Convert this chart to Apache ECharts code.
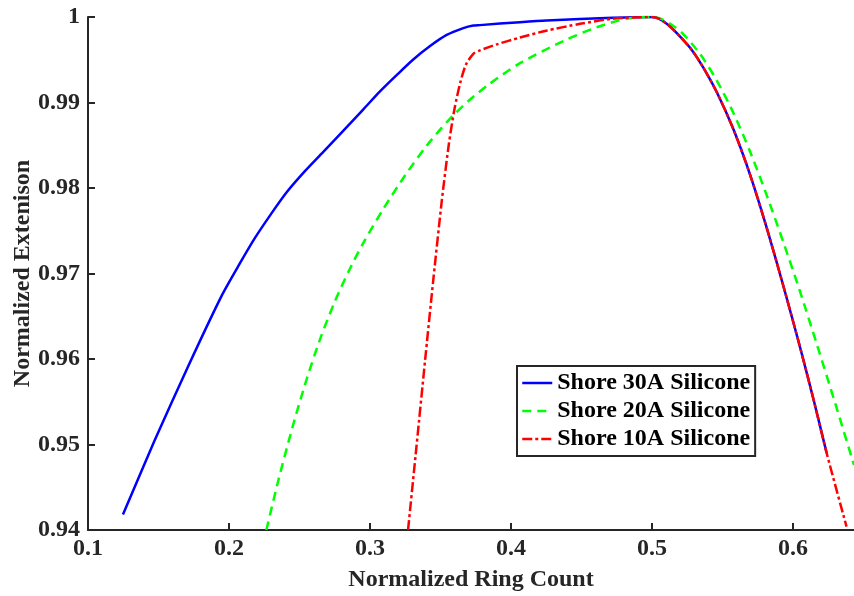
<!DOCTYPE html>
<html>
<head>
<meta charset="utf-8">
<script src="https://cdn.jsdelivr.net/npm/echarts@6/dist/echarts.min.js"></script>
<style>
html,body{margin:0;padding:0;background:#fff;}
#chart{width:854px;height:596px;}
</style>
</head>
<body>
<div id="chart"></div>
<script>
// ---- Data ----
const xTicks = [0.1, 0.2, 0.3, 0.4, 0.5, 0.6];
const xTickLabels = ['0.1', '0.2', '0.3', '0.4', '0.5', '0.6'];
const yTicks = [0.94, 0.95, 0.96, 0.97, 0.98, 0.99, 1.0];
const yTickLabels = ['0.94', '0.95', '0.96', '0.97', '0.98', '0.99', '1'];

const seriesNames = ['Shore 30A Silicone', 'Shore 20A Silicone', 'Shore 10A Silicone'];

const x30 = [0.1248, 0.1473, 0.1709, 0.1945, 0.2078, 0.2182, 0.2300, 0.2409, 0.2540, 0.2679, 0.2800, 0.2953, 0.3071, 0.3189, 0.3305, 0.3426, 0.3544, 0.3662, 0.3733, 0.3780, 0.4064, 0.4253, 0.4723, 0.5000, 0.5050, 0.5120, 0.5200, 0.5280, 0.5360, 0.5460, 0.5577, 0.5695, 0.5813, 0.5931, 0.6050, 0.6150, 0.6239];
const y30 = [0.9418, 0.9505, 0.9591, 0.9673, 0.9712, 0.9741, 0.9770, 0.9795, 0.9820, 0.9844, 0.9865, 0.9892, 0.9913, 0.9932, 0.9950, 0.9966, 0.9979, 0.9987, 0.9990, 0.99905, 0.9994, 0.9996, 0.9999, 1.0000, 0.9998, 0.9990, 0.9977, 0.9962, 0.9942, 0.9912, 0.9869, 0.9816, 0.9754, 0.9686, 0.9614, 0.9550, 0.9490];

const x20 = [0.2265, 0.2350, 0.2450, 0.2550, 0.2650, 0.2750, 0.2850, 0.2950, 0.3100, 0.3250, 0.3400, 0.3550, 0.3700, 0.3850, 0.4064, 0.4372, 0.4608, 0.4820, 0.5000, 0.5060, 0.5140, 0.5222, 0.5340, 0.5459, 0.5577, 0.5695, 0.5813, 0.5931, 0.6050, 0.6168, 0.6300, 0.6433];
const y20 = [0.9400, 0.9458, 0.9520, 0.9576, 0.9625, 0.9667, 0.9703, 0.9735, 0.9777, 0.9815, 0.9849, 0.9878, 0.9902, 0.9922, 0.9946, 0.9972, 0.9988, 0.9998, 1.0000, 0.9998, 0.9991, 0.9980, 0.9957, 0.9926, 0.9888, 0.9843, 0.9792, 0.9737, 0.9679, 0.9618, 0.9548, 0.9476];

const x10 = [0.3270, 0.3330, 0.3390, 0.3450, 0.3510, 0.3560, 0.3600, 0.3640, 0.3680, 0.3733, 0.3780, 0.3900, 0.4064, 0.4250, 0.4490, 0.4723, 0.5000, 0.5050, 0.5120, 0.5200, 0.5280, 0.5360, 0.5460, 0.5577, 0.5695, 0.5813, 0.5931, 0.6050, 0.6150, 0.6239, 0.6380];
const y10 = [0.9400, 0.9498, 0.9597, 0.9694, 0.9786, 0.9852, 0.9893, 0.9923, 0.9944, 0.9957, 0.9961, 0.9968, 0.9976, 0.9984, 0.9992, 0.9998, 1.0000, 0.9998, 0.9990, 0.9977, 0.9962, 0.9942, 0.9912, 0.9869, 0.9816, 0.9754, 0.9686, 0.9614, 0.9550, 0.9490, 0.9404];

const xMin = 0.1, xMax = 0.6433, yMin = 0.94, yMax = 1.0;

// ---- Build ----
function pairs(xs, ys) { return xs.map((x, i) => [x, ys[i]]); }
const FONT = '"Liberation Serif", "Times New Roman", serif';
const axisColor = '#262626';
const dash20 = [9, 6];
const dash10 = [10, 3, 3, 3];

const chart = echarts.init(document.getElementById('chart'), null, {renderer: 'canvas'});
chart.setOption({
  animation: false,
  backgroundColor: '#fff',
  grid: {left: 88, right: 0, top: 17, bottom: 66, containLabel: false, outerBoundsMode: 'none'},
  xAxis: {
    type: 'value', min: xMin, max: xMax,
    name: 'Normalized Ring Count', nameLocation: 'middle', nameGap: 38, nameMoveOverlap: false,
    nameTextStyle: {fontFamily: FONT, fontWeight: 'bold', fontSize: 24, color: '#262626'},
    axisLine: {show: true, onZero: false, lineStyle: {color: axisColor, width: 2}},
    axisTick: {show: true, inside: true, length: 7, lineStyle: {color: axisColor, width: 2}, customValues: xTicks},
    axisLabel: {
      fontFamily: FONT, fontWeight: 'bold', fontSize: 24, color: '#262626', margin: 7,
      customValues: xTicks,
      formatter: v => { const i = xTicks.findIndex(t => Math.abs(t - v) < 1e-6); return i >= 0 ? xTickLabels[i] : ''; }
    },
    splitLine: {show: false}
  },
  yAxis: {
    type: 'value', min: yMin, max: yMax,
    name: 'Normalized Extenison', nameLocation: 'middle', nameGap: 53, nameMoveOverlap: false,
    nameTextStyle: {fontFamily: FONT, fontWeight: 'bold', fontSize: 24, color: '#262626'},
    axisLine: {show: true, onZero: false, lineStyle: {color: axisColor, width: 2}},
    axisTick: {show: true, inside: true, length: 7, lineStyle: {color: axisColor, width: 2}, customValues: yTicks},
    axisLabel: {
      fontFamily: FONT, fontWeight: 'bold', fontSize: 24, color: '#262626', margin: 8,
      customValues: yTicks,
      formatter: v => { const i = yTicks.findIndex(t => Math.abs(t - v) < 1e-6); return i >= 0 ? yTickLabels[i] : ''; }
    },
    splitLine: {show: false}
  },
  legend: {
    orient: 'vertical', left: 517, top: 366,
    backgroundColor: '#fff', borderColor: axisColor, borderWidth: 2,
    padding: [5, 5, 5, 4], itemWidth: 30, itemHeight: 14, itemGap: 4,
    itemStyle: {opacity: 0},
    textStyle: {fontFamily: FONT, fontWeight: 'bold', fontSize: 24, color: '#000', lineHeight: 24},
    data: [
      {name: seriesNames[0], itemStyle: {opacity: 0}, lineStyle: {color: '#0000ff', width: 2.5, type: 'solid'}},
      {name: seriesNames[1], itemStyle: {opacity: 0}, lineStyle: {color: '#00ff00', width: 2.5, type: dash20}},
      {name: seriesNames[2], itemStyle: {opacity: 0}, lineStyle: {color: '#ff0000', width: 2.5, type: dash10}}
    ]
  },
  series: [
    {name: seriesNames[0], type: 'line', data: pairs(x30, y30), showSymbol: false, symbol: 'none', smooth: 0.25, clip: true,
     lineStyle: {color: '#0000ff', width: 2.5, type: 'solid'}, itemStyle: {color: '#0000ff'}, z: 2},
    {name: seriesNames[1], type: 'line', data: pairs(x20, y20), showSymbol: false, symbol: 'none', smooth: 0.25, clip: true,
     lineStyle: {color: '#00ff00', width: 2.5, type: dash20}, itemStyle: {color: '#00ff00'}, z: 3},
    {name: seriesNames[2], type: 'line', data: pairs(x10, y10), showSymbol: false, symbol: 'none', smooth: 0.25, clip: true,
     lineStyle: {color: '#ff0000', width: 2.5, type: dash10}, itemStyle: {color: '#ff0000'}, z: 4}
  ]
});
</script>
</body>
</html>
